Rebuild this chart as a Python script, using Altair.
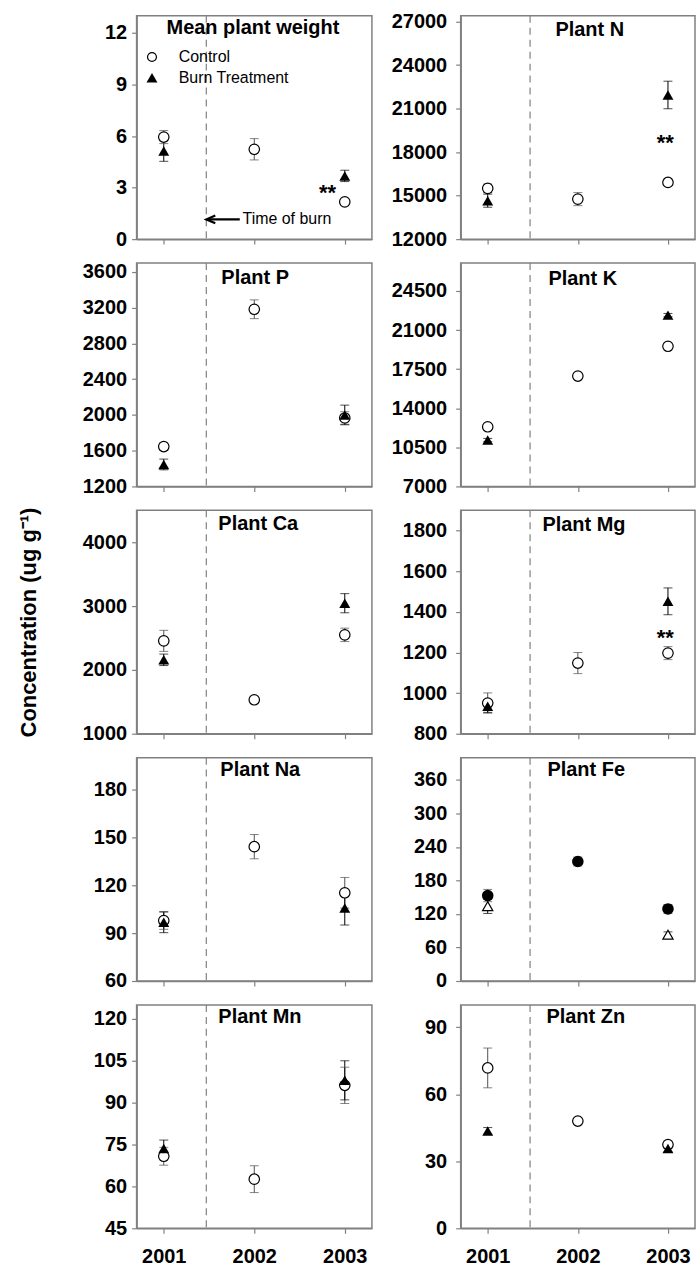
import altair as alt
import pandas as pd

YEARS = [2001, 2002, 2003]
BURN_YEARS = [2001, 2003]
BURN_TIME = 2001.47

# Mean plant weight
WEIGHT_CTRL = [5.94, 5.23, 2.17]
WEIGHT_CTRL_SE = [0.38, 0.62, 0.10]
WEIGHT_BURN = [5.13, 3.68]
WEIGHT_BURN_SE = [0.60, 0.33]
# Plant N
N_CTRL = [15500, 14760, 15910]
N_CTRL_SE = [300, 450, 150]
N_BURN = [14650, 21940]
N_BURN_SE = [450, 950]
# Plant P
P_CTRL = [1646, 3183, 1966]
P_CTRL_SE = [40, 105, 70]
P_BURN = [1446, 2000]
P_BURN_SE = [60, 110]
# Plant K
K_CTRL = [12340, 16880, 19550]
K_CTRL_SE = [150, 150, 150]
K_BURN = [11150, 22340]
K_BURN_SE = [150, 150]
# Plant Ca
CA_CTRL = [2455, 1532, 2549]
CA_CTRL_SE = [165, 50, 105]
CA_BURN = [2158, 3045]
CA_BURN_SE = [90, 150]
# Plant Mg
MG_CTRL = [951, 1148, 1197]
MG_CTRL_SE = [50, 52, 32]
MG_BURN = [935, 1452]
MG_BURN_SE = [30, 66]
# Plant Na
NA_CTRL = [97.9, 144.2, 115.3]
NA_CTRL_SE = [5.5, 7.6, 9.6]
NA_BURN = [96.8, 105.8]
NA_BURN_SE = [6.5, 10.7]
# Plant Fe
FE_CTRL = [153, 214, 129]
FE_CTRL_SE = [11, 8, 8]
FE_BURN = [134, 83]
FE_BURN_SE = [13, 5]
# Plant Mn
MN_CTRL = [70.8, 62.6, 96.2]
MN_CTRL_SE = [3.2, 4.8, 6.5]
MN_BURN = [73.6, 98.0]
MN_BURN_SE = [3.0, 7.0]
# Plant Zn
ZN_CTRL = [71.8, 48.0, 37.5]
ZN_CTRL_SE = [8.9, 1.0, 1.5]
ZN_BURN = [43.6, 35.7]
ZN_BURN_SE = [1.5, 1.5]

# Significance markers (x, y)
WEIGHT_STARS = [2002.81, 3.0]
N_STARS = [2002.97, 18950]
MG_STARS = [2002.97, 1296]

FONT = "Liberation Sans"
GRAY = "#808080"
XDOMAIN = [2000.7, 2003.3]
PH = 224


def make_df(ctrl, ctrl_se, burn, burn_se):
    rows = []
    for yr, m, s in zip(YEARS, ctrl, ctrl_se):
        rows.append({"year": yr, "group": "Control", "mean": m, "lo": m - s, "hi": m + s})
    for yr, m, s in zip(BURN_YEARS, burn, burn_se):
        rows.append({"year": yr, "group": "Burn", "mean": m, "lo": m - s, "hi": m + s})
    return pd.DataFrame(rows)


def panel(title, ctrl, ctrl_se, burn, burn_se, domain, ticks, width, bottom, right,
          title_x=84, title_y=13, swap=False, stars=None, ytitle=None, legend=False):
    df = make_df(ctrl, ctrl_se, burn, burn_se)
    xscale = alt.Scale(domain=XDOMAIN, nice=False, zero=False)
    yscale = alt.Scale(domain=domain, nice=False, zero=False)
    xaxis = alt.Axis(values=YEARS, format="d", labels=bottom, title=None,
                     labelPadding=13, labelFontSize=20)
    ykw = dict(values=ticks, format="d", title=None, labelPadding=9 if right else 5)
    if ytitle:
        ykw.update(title=ytitle, titleFontSize=22, titleFontWeight="bold",
                   titleFont=FONT, titleX=-108, titleY=PH / 2, titleAngle=270,
                   titleAlign="center", titleBaseline="middle", titleColor="black")
    yaxis = alt.Axis(**ykw)

    def X(f="year"):
        return alt.X(f + ":Q", scale=xscale, axis=xaxis)

    def Y(f):
        return alt.Y(f + ":Q", scale=yscale, axis=yaxis)

    col = alt.Color("group:N", scale=alt.Scale(domain=["Control", "Burn"],
                                                range=["#505050", "#000000"]), legend=None)
    base = alt.Chart(df)
    layers = []
    layers.append(alt.Chart(pd.DataFrame({"year": [BURN_TIME]})).mark_rule(
        color=GRAY, strokeDash=[7, 5], strokeWidth=1.2).encode(x=X()))
    layers.append(base.mark_rule(strokeWidth=1).encode(x=X(), y=Y("lo"), y2="hi:Q", color=col))
    layers.append(base.mark_tick(orient="horizontal", size=9, thickness=1).encode(x=X(), y=Y("lo"), color=col))
    layers.append(base.mark_tick(orient="horizontal", size=9, thickness=1).encode(x=X(), y=Y("hi"), color=col))
    ctrl_df = base.transform_filter(alt.datum.group == "Control")
    burn_df = base.transform_filter(alt.datum.group == "Burn")
    if not swap:
        layers.append(ctrl_df.mark_point(shape="circle", filled=True, fill="white", stroke="black",
                                         strokeWidth=1.2, size=110, opacity=1).encode(x=X(), y=Y("mean")))
        layers.append(burn_df.mark_point(shape="triangle-up", filled=True, color="black",
                                         size=120, opacity=1).encode(x=X(), y=Y("mean")))
    else:
        layers.append(burn_df.mark_point(shape="triangle-up", filled=True, fill="white", stroke="black",
                                         strokeWidth=1.2, size=105, opacity=1).encode(x=X(), y=Y("mean")))
        layers.append(ctrl_df.mark_point(shape="circle", filled=True, color="black",
                                         size=135, opacity=1).encode(x=X(), y=Y("mean")))
    if stars:
        sdf = pd.DataFrame({"year": [stars[0]], "v": [stars[1]], "t": ["**"]})
        layers.append(alt.Chart(sdf).mark_text(font=FONT, fontSize=22, fontWeight="bold",
                                               baseline="alphabetic", dy=12, color="black").encode(
            x=X(), y=Y("v"), text="t:N"))
    if legend:
        ldf = pd.DataFrame({"year": [2000.87, 2000.87], "v": [10.6, 9.39],
                            "t": ["Control", "Burn Treatment"], "tx": [2001.165, 2001.165]})
        layers.append(alt.Chart(ldf).transform_filter(alt.datum.t == "Control").mark_point(
            shape="circle", filled=True, fill="white", stroke="black", strokeWidth=1.2, size=80,
            opacity=1).encode(x=X(), y=Y("v")))
        layers.append(alt.Chart(ldf).transform_filter(alt.datum.t != "Control").mark_point(
            shape="triangle-up", filled=True, color="black", size=120, opacity=1).encode(x=X(), y=Y("v")))
        layers.append(alt.Chart(ldf).mark_text(font=FONT, fontSize=16, align="left",
                                               baseline="middle", color="black").encode(
            x=X("tx"), y=Y("v"), text="t:N"))
        adf = pd.DataFrame({"year": [BURN_TIME + 0.01], "x2": [2001.84], "v": [1.15],
                            "head": [BURN_TIME + 0.05], "tx": [2001.87], "t": ["Time of burn"]})
        layers.append(alt.Chart(adf).mark_rule(strokeWidth=2.2, color="black").encode(
            x=X(), x2="x2:Q", y=Y("v")))
        layers.append(alt.Chart(adf).mark_point(shape="M 1 -0.85 L -1 0 L 1 0.85", filled=False,
                                                strokeWidth=2.2, size=80, color="black",
                                                opacity=1).encode(x=X("head"), y=Y("v")))
        layers.append(alt.Chart(adf).mark_text(font=FONT, fontSize=16, align="left",
                                               baseline="middle", color="black").encode(
            x=X("tx"), y=Y("v"), text="t:N"))
    tdf = pd.DataFrame({"t": [title]})
    layers.append(alt.Chart(tdf).mark_text(font=FONT, fontSize=20, fontWeight="bold", align="left",
                                           baseline="middle", color="black").encode(
        text="t:N", x=alt.value(title_x), y=alt.value(title_y)))
    return alt.layer(*layers).properties(width=width, height=PH)


LW, RW = 236, 235
charts = [
    panel("Mean plant weight", WEIGHT_CTRL, WEIGHT_CTRL_SE, WEIGHT_BURN, WEIGHT_BURN_SE,
          [0, 13], [0, 3, 6, 9, 12], LW, False, False, title_x=30, title_y=12,
          stars=WEIGHT_STARS, legend=True),
    panel("Plant N", N_CTRL, N_CTRL_SE, N_BURN, N_BURN_SE, [12000, 27400],
          [12000, 15000, 18000, 21000, 24000, 27000], RW, False, True, title_x=95, title_y=14,
          stars=N_STARS),
    panel("Plant P", P_CTRL, P_CTRL_SE, P_BURN, P_BURN_SE, [1200, 3700],
          [1200, 1600, 2000, 2400, 2800, 3200, 3600], LW, False, False, title_x=85, title_y=15),
    panel("Plant K", K_CTRL, K_CTRL_SE, K_BURN, K_BURN_SE, [7000, 27000],
          [7000, 10500, 14000, 17500, 21000, 24500], RW, False, True, title_x=88, title_y=16),
    panel("Plant Ca", CA_CTRL, CA_CTRL_SE, CA_BURN, CA_BURN_SE, [1000, 4500],
          [1000, 2000, 3000, 4000], LW, False, False, title_x=82, title_y=14,
          ytitle="Concentration (ug g\u207b\u00b9)"),
    panel("Plant Mg", MG_CTRL, MG_CTRL_SE, MG_BURN, MG_BURN_SE, [800, 1900],
          [800, 1000, 1200, 1400, 1600, 1800], RW, False, True, title_x=82, title_y=15,
          stars=MG_STARS),
    panel("Plant Na", NA_CTRL, NA_CTRL_SE, NA_BURN, NA_BURN_SE, [60, 200],
          [60, 90, 120, 150, 180], LW, False, False, title_x=84, title_y=12),
    panel("Plant Fe", FE_CTRL, FE_CTRL_SE, FE_BURN, FE_BURN_SE, [0, 400],
          [0, 60, 120, 180, 240, 300, 360], RW, False, True, title_x=87, title_y=12, swap=True),
    panel("Plant Mn", MN_CTRL, MN_CTRL_SE, MN_BURN, MN_BURN_SE, [45, 125],
          [45, 60, 75, 90, 105, 120], LW, True, False, title_x=82, title_y=12),
    panel("Plant Zn", ZN_CTRL, ZN_CTRL_SE, ZN_BURN, ZN_BURN_SE, [0, 100],
          [0, 30, 60, 90], RW, True, True, title_x=86, title_y=12),
]

chart = alt.concat(*charts, columns=2, spacing={"row": 24, "column": 89},
                   bounds="flush", align="each").properties(
    padding={"left": 17, "top": 9, "right": 0, "bottom": 0},
    background="white",
).configure_view(
    stroke=GRAY, strokeWidth=1.5
).configure_axis(
    labelFont=FONT, labelFontSize=20, labelFontWeight="bold", labelColor="black",
    tickColor=GRAY, domainColor=GRAY, domainWidth=1.5, tickWidth=1.2, tickSize=5,
    grid=False, labelFlush=False, labelOverlap=False,
)

chart.save("out.html", embed_options={"renderer": "svg", "actions": False})
